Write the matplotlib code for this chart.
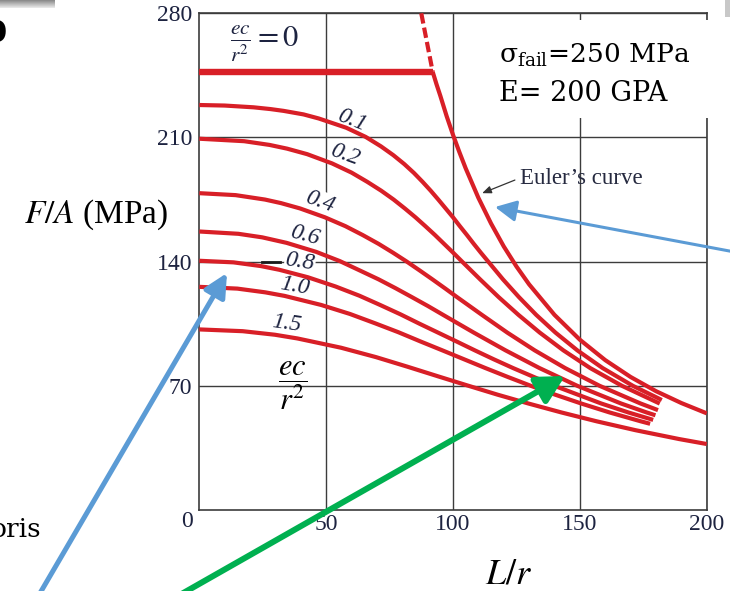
import matplotlib.pyplot as plt
import numpy as np
from matplotlib.patches import Rectangle, FancyArrowPatch

# values: L/r and F/A (MPa)
lr_e0 = [0, 92]
fa_e0 = [247, 247]

lr_euler_dash = [87.5, 92]
fa_euler_dash = [280, 247]
lr_euler = [92, 93.5, 95, 97.5, 100, 102.5, 105, 110, 115, 120, 125, 130, 140, 150, 160, 170, 180, 190, 200]
fa_euler = [247, 240, 233.5, 222, 211.5, 201.8, 192.6, 176, 161.5, 148.6, 137.3, 127.2, 110, 96, 84.5, 75, 67, 60.3, 54.5]

lr_01 = [0, 10, 21.4, 28.1, 33.2, 41.1, 47.1, 57.9, 65.6, 71.6, 76.5, 80.8, 84.6, 88, 91.2, 94.2, 97.1,
         100, 102.7, 105.5, 108.2, 111, 113.9, 119.7, 126, 132.8, 140.4, 149, 159, 170.9, 182.3]
fa_01 = [228.3, 228, 227, 226, 225, 223, 220.7, 215.5, 210.3, 205, 200, 195, 190, 185, 180, 175, 170,
         165, 160, 155, 150, 145, 140, 130, 120, 110, 100, 90, 80, 70, 62]

lr_02 = [0, 17.7, 27.7, 34.6, 42.5, 52.3, 60, 66.2, 71.7, 76.6, 81, 85.2, 89.1, 92.9, 96.5, 100.1,
         103.6, 110.7, 118, 125.8, 134.2, 143.5, 154.1, 166.6, 181.5]
fa_02 = [209.3, 207.9, 205.8, 203.7, 200.6, 195.4, 190.2, 185, 180, 175, 170, 165, 160, 155, 150, 145,
         140, 130, 120, 110, 100, 90, 80, 70, 60]

lr_04 = [0, 14.3, 25.9, 32.2, 39.7, 49.5, 57.6, 64.4, 70.7, 76.4, 81.8, 86.9, 91.9, 96.8, 101.6,
         111.4, 121.4, 132.2, 144.2, 157.8, 174, 180.8]
fa_04 = [178.6, 177.5, 175, 173, 170, 165, 160, 155, 150, 145, 140, 135, 130, 125, 120,
         110, 100, 90, 80, 70, 60, 56.3]

lr_06 = [0, 15.4, 24.8, 34.4, 46.1, 55.4, 63.3, 70.7, 77.4, 83.8, 90.1, 96.1, 108.2, 120.7, 134.1,
         149, 166.3, 176.3, 179.8]
fa_06 = [157, 155.7, 153.7, 150.6, 145.5, 140.3, 135, 130, 125, 120, 115, 110, 100, 90, 80,
         70, 60, 55, 53.4]

lr_08 = [0, 13.5, 24.3, 31.6, 42.8, 53.7, 63.1, 71.4, 79.3, 86.8, 94.1, 101.4, 108.6, 116, 123.7,
         140, 158.5, 169.1, 178.9]
fa_08 = [140.5, 139.6, 137.5, 135.4, 131.2, 126, 120.8, 115.5, 110.3, 105, 100, 95, 90, 85, 80,
         70, 60, 55, 50.8]

lr_10 = [0, 15, 26, 33.6, 48, 59.4, 69.2, 78.5, 87.2, 95.8, 104.3, 112.8, 121.6, 130.7, 140.3,
         150.6, 161.7, 174, 177.7]
fa_10 = [125.8, 124.8, 122.7, 120.7, 115.6, 110.5, 105.3, 100.2, 95, 90, 85, 80, 75, 70, 65,
         60, 55, 50, 48.6]

lr_15 = [0, 17.1, 29.8, 38.7, 55.8, 69.6, 82, 94, 105.7, 117.6, 129.8, 142.7, 156.6, 171.9, 189.1, 200]
fa_15 = [101.8, 100.8, 98.8, 96.7, 91.5, 86.2, 80.8, 75.4, 70.2, 65, 60, 55, 50, 45, 40, 37.2]

curve_labels = ['0.1', '0.2', '0.4', '0.6', '0.8', '1.0', '1.5']
label_x = [60.1, 57.4, 47.6, 41.7, 39.7, 37.7, 34.4]
label_y = [219.7, 200, 173.6, 154.6, 140, 126.3, 105.2]
label_rot = [-22, -20, -20, -15, -9, -10, -8]

xticks = [50, 100, 150, 200]
yticks = [70, 140, 210, 280]

RED = '#d81f27'
GRID = '#3c3c3c'
NAVY = '#1d2340'
SERIF = 'Liberation Serif'

W, H = 730, 591


def fpx(x, y):
    # reference pixel position -> figure fraction
    return (x / W, 1 - y / H)


fig = plt.figure(figsize=(7.3, 5.91), dpi=100)
fig.patch.set_facecolor('white')
ax = fig.add_axes([199.3 / W, 1 - 510 / H, 507.4 / W, 496.7 / H])

ax.set_xlim(0, 200)
ax.set_ylim(0, 280)
ax.set_xticks(xticks)
ax.set_yticks(yticks)
ax.set_xticklabels([str(v) for v in xticks], fontfamily=SERIF, fontsize=17, color=NAVY)
ax.set_yticklabels([str(v) for v in yticks], fontfamily=SERIF, fontsize=17, color=NAVY)
ax.tick_params(axis='both', length=0)
ax.tick_params(axis='x', pad=3)
ax.tick_params(axis='y', pad=5)
ax.grid(True, color=GRID, lw=1.0)
ax.set_axisbelow(True)
for sp in ax.spines.values():
    sp.set_color(GRID)
    sp.set_linewidth(1.2)

# curves
ax.plot(lr_e0, fa_e0, color=RED, lw=4.6, solid_capstyle='butt', zorder=3)
ax.plot(lr_euler_dash, fa_euler_dash, color=RED, lw=3.0, linestyle=(0, (2.5, 1.0)), zorder=3)
ax.plot(lr_euler, fa_euler, color=RED, lw=3.0, solid_capstyle='butt', zorder=3)
for xs, ys in [(lr_01, fa_01), (lr_02, fa_02), (lr_04, fa_04), (lr_06, fa_06),
               (lr_08, fa_08), (lr_10, fa_10), (lr_15, fa_15)]:
    ax.plot(xs, ys, color=RED, lw=3.0, solid_capstyle='butt', zorder=3)

for lab, x, y, r in zip(curve_labels, label_x, label_y, label_rot):
    ax.text(x, y, lab, fontfamily=SERIF, style='italic', fontsize=17, color=NAVY,
            rotation=r, ha='center', va='center', zorder=2.5,
            bbox=dict(facecolor='white', edgecolor='none', pad=0.5))

# little black stub on the 140 line
ax.plot([24.6, 31.8], [140, 140], color='#1a1a1a', lw=2.0, zorder=2.6)

# ec/r^2 = 0 label
ax.text(25.5, 263, r'$\frac{ec}{r^2} = 0$', fontsize=22, color=NAVY,
        math_fontfamily='stix', ha='center', va='center')
# ec/r^2 legend near the 70 line
ax.text(36.7, 70, r'$\dfrac{ec}{r^2}$', fontsize=22, color='black',
        math_fontfamily='stix', ha='center', va='center', zorder=4)

# Euler's curve label with small arrow
ax.text(126.4, 186.7, 'Euler\u2019s curve', fontfamily=SERIF, fontsize=16.5,
        color='#262a40', ha='left', va='center')
ax.annotate('', xy=(111.5, 178.6), xytext=(124.4, 186.0),
            arrowprops=dict(arrowstyle='-|>,head_length=0.6,head_width=0.25',
                            color='#333333', lw=0.9, shrinkA=0, shrinkB=0,
                            mutation_scale=9))

# axis titles placed like the reference
fig.text(*fpx(96, 215), r'$F/A$ (MPa)', fontfamily=SERIF, fontsize=24,
         math_fontfamily='stix', ha='center', va='center', color='black')
fig.text(*fpx(509, 574), r'$L/r$', fontsize=26, math_fontfamily='stix',
         ha='center', va='center', color='black')
fig.text(*fpx(193, 521.5), '0', fontfamily=SERIF, fontsize=17, color=NAVY,
         ha='right', va='center')

# white box with material data
fig.patches.append(Rectangle(fpx(488, 118), 226 / W, 98 / H, transform=fig.transFigure,
                             facecolor='white', edgecolor='none', zorder=1))
fig.text(*fpx(499, 63), '\u03c3$_{\\mathrm{fail}}$=250 MPa', fontfamily='DejaVu Serif',
         math_fontfamily='dejavuserif', fontsize=19, color='black', va='baseline', zorder=2)
fig.text(*fpx(499, 101), 'E= 200 GPA', fontfamily='DejaVu Serif', fontsize=19.5,
         color='black', va='baseline', zorder=2)

# slide leftovers around the figure
fig.text(*fpx(7, 33), '0', fontfamily='DejaVu Sans', fontweight='bold', fontsize=22,
         ha='right', va='center', color='black')
fig.text(*fpx(-9, 537), 'oris', fontfamily='DejaVu Serif', fontsize=19,
         ha='left', va='baseline', color='black')
# grey shaded strips at the top corners
bar = fig.add_axes([0, 1 - 8 / H, 55 / W, 8 / H])
bar.imshow(np.linspace(0.55, 0.9, 8).reshape(-1, 1), cmap='gray', vmin=0, vmax=1,
           aspect='auto', extent=(0, 1, 0, 1))
bar.axis('off')
fig.patches.append(Rectangle(fpx(725, 17), 5 / W, 17 / H, transform=fig.transFigure,
                             facecolor='#c8c8c8', edgecolor='none', zorder=1))

# pointer arrows drawn over the slide
arrows = [
    (fpx(36, 600), fpx(227, 273), '#5b9bd5', 3.6, 20, 0.7, 0.35),
    (fpx(178, 596), fpx(565, 376), '#00b050', 4.3, 22, 0.75, 0.4),
    (fpx(740, 253), fpx(495, 207), '#5b9bd5', 2.2, 16, 0.8, 0.4),
]
for a, b, col, lw, ms, hl, hw in arrows:
    fig.add_artist(FancyArrowPatch(a, b, transform=fig.transFigure,
                                   arrowstyle=f'-|>,head_length={hl},head_width={hw}',
                                   color=col, lw=lw, mutation_scale=ms,
                                   shrinkA=0, shrinkB=0, zorder=5))

fig.savefig('out.png', dpi=100)
